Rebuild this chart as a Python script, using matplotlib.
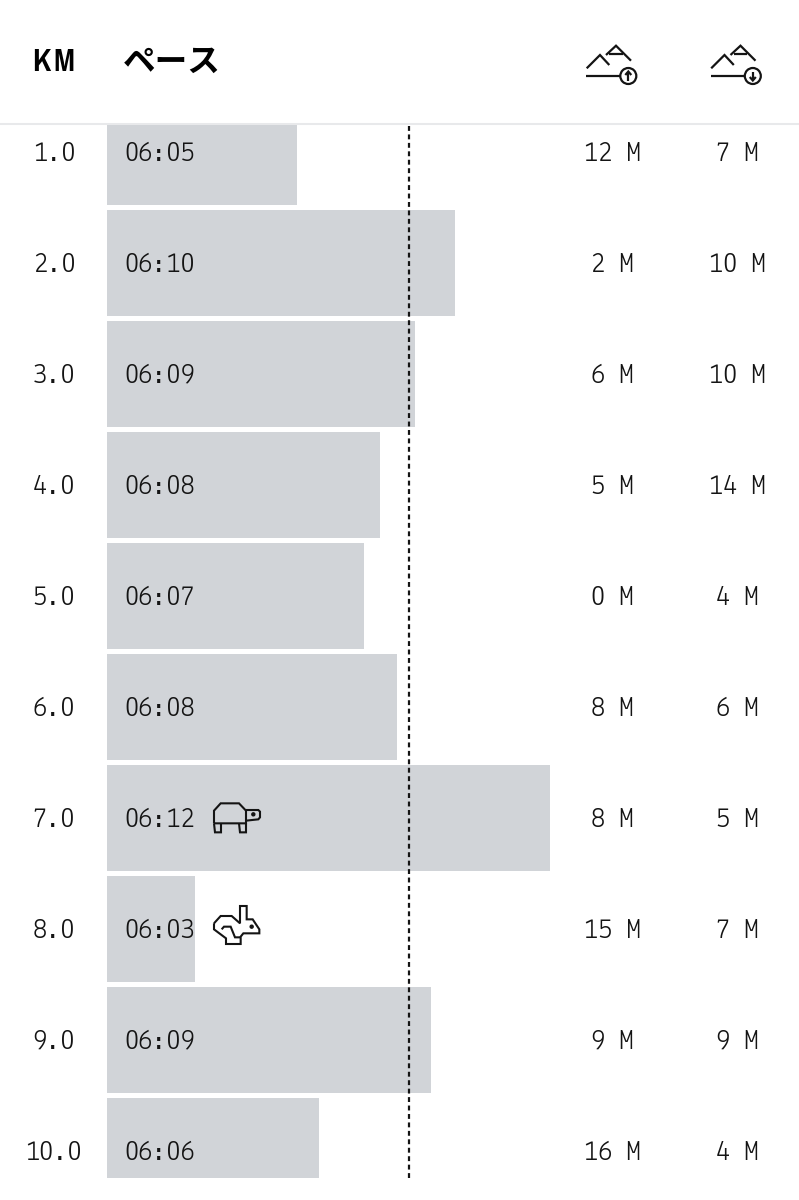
import matplotlib
matplotlib.use("Agg")
import matplotlib.pyplot as plt
from matplotlib.patches import Circle
from matplotlib.transforms import blended_transform_factory

km = ["1.0", "2.0", "3.0", "4.0", "5.0", "6.0", "7.0", "8.0", "9.0", "10.0"]
pace = ["06:05", "06:10", "06:09", "06:08", "06:07", "06:08", "06:12", "06:03", "06:09", "06:06"]
bar_len = [190, 348, 308, 273, 257, 290, 443, 88, 324, 212]
avg_len = 302
climb = [12, 2, 6, 5, 0, 8, 8, 15, 9, 16]
descent = [7, 10, 10, 14, 4, 6, 5, 7, 9, 4]

INK = "#141414"
BAR = "#d1d4d8"
RULE = "#e8e9eb"
MONO = ["Lekton", "Liberation Mono"]
W, H = 799, 1200
TOP, BOTTOM, LEFT = 124, 1178, 107

fig = plt.figure(figsize=(W / 100, H / 100), dpi=100)

# page axes works in pixels, used for header, icons and text columns
page = fig.add_axes([0, 0, 1, 1])
page.set_xlim(0, W)
page.set_ylim(H, 0)
page.axis("off")

# bar axes: one row is 111 px, rows are clipped at both ends
ax = fig.add_axes([LEFT / W, 1 - BOTTOM / H, (W - LEFT) / W, (BOTTOM - TOP) / H])
ax.set_xlim(0, W - LEFT)
ax.set_ylim(10 + 27 / 111, 1 - 28 / 111)
ax.axis("off")
ax.patch.set_alpha(0)

rows = list(range(1, 11))
ax.barh(rows, bar_len, height=106 / 111, color=BAR, linewidth=0)
ax.axvline(avg_len, color=INK, lw=1.6, dashes=(2.2, 1.6))

col = blended_transform_factory(page.transData, ax.transData)
base = 9 / 111  # baseline sits 9 px under the row centre
for r, k, p, up, down in zip(rows, km, pace, climb, descent):
    style = dict(transform=col, family=MONO, fontsize=20.4, color=INK, va="baseline", zorder=5)
    ax.text(54, r + base, k, ha="center", **style)
    ax.text(124, r + base, p, ha="left", **style)
    ax.text(612, r + base, f"{up} M", ha="center", **style)
    ax.text(737, r + base, f"{down} M", ha="center", **style)

# header
page.text(54, 71, "K\u200aM", family=["Pragati Narrow", "Liberation Sans"], fontweight="bold", fontsize=24,
          color="black", ha="center", va="baseline")
page.text(172, 62, "ペース", family=["Noto Sans CJK JP", "DejaVu Sans"], fontweight="bold", fontsize=23.5,
          color="black", ha="center", va="center")
page.plot([0, W], [124, 124], color=RULE, lw=1.5, solid_capstyle="butt")


def stroke(target, pts, dx=0, dy=0, lw=1.6):
    xs = [p[0] + dx for p in pts]
    ys = [p[1] + dy for p in pts]
    target.plot(xs, ys, color=INK, lw=lw, solid_joinstyle="miter", solid_capstyle="butt", zorder=6)


def hills_icon(dx, up):
    stroke(page, [(586.7, 68.3), (600, 55), (609.3, 65)], dx)
    stroke(page, [(606, 55), (616, 45.7), (631, 60.7)], dx)
    stroke(page, [(609.3, 54), (622.7, 54)], dx)
    stroke(page, [(586, 76), (620, 76)], dx)
    page.add_patch(Circle((628.3 + dx, 76), 8, fill=False, ec=INK, lw=1.6, zorder=6))
    stroke(page, [(628.3, 80.5), (628.3, 72)] if up else [(628.3, 71.5), (628.3, 80)], dx)
    if up:
        stroke(page, [(625.3, 75), (628.3, 71.5), (631.3, 75)], dx)
    else:
        stroke(page, [(625.3, 77), (628.3, 80.5), (631.3, 77)], dx)


hills_icon(0, True)
hills_icon(124.5, False)

# turtle, 3x zoom coordinates of the icon box
turtle = [
    [(72, 130), (72, 92), (92, 70), (147, 70), (168, 92), (168, 130), (72, 130)],
    [(168, 90), (205, 90), (210, 95), (210, 112), (205, 118), (168, 122)],
    [(72, 130), (75, 157), (93, 157), (93, 130)],
    [(147, 130), (150, 157), (168, 157), (168, 130)],
]
for part in turtle:
    stroke(page, [(190 + x / 3, 780 + y / 3) for x, y in part], lw=1.5)
page.add_patch(Circle((190 + 190 / 3, 780 + 103 / 3), 1.5, color=INK, zorder=6))

rabbit = [
    [(72, 100), (92, 78), (125, 78), (150, 100), (150, 48), (170, 48), (170, 88), (188, 88), (208, 118), (208, 130),
     (160, 130), (152, 140), (152, 162), (108, 162), (108, 145), (72, 118), (72, 100)],
    [(95, 118), (102, 110), (122, 110), (135, 142), (152, 142)],
]
for part in rabbit:
    stroke(page, [(190 + x / 3, 890 + y / 3) for x, y in part], lw=1.5)
page.add_patch(Circle((190 + 185 / 3, 890 + 110 / 3), 1.5, color=INK, zorder=6))

page.set_zorder(3)
page.patch.set_alpha(0)
fig.savefig("out.png", dpi=100, facecolor="white")
